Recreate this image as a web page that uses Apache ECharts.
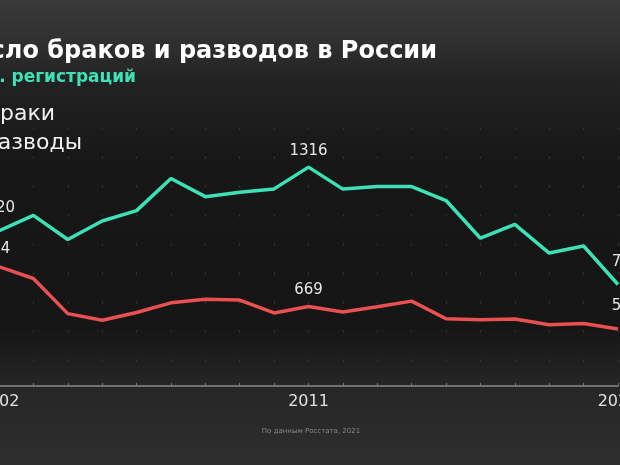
<!DOCTYPE html>
<html>
<head>
<meta charset="utf-8">
<script src="https://cdn.jsdelivr.net/npm/echarts@6/dist/echarts.min.js"></script>
<style>html,body{margin:0;padding:0;background:#1a1a1a}#c{width:620px;height:465px}</style>
</head>
<body>
<div id="c"></div>
<script>
const years = ['2002','2003','2004','2005','2006','2007','2008','2009','2010','2011','2012','2013','2014','2015','2016','2017','2018','2019','2020'];
const marriages = [1020, 1092, 980, 1066, 1114, 1263, 1179, 1199, 1215, 1316, 1214, 1226, 1226, 1161, 986, 1050, 917, 950, 771];
const divorces = [854, 799, 636, 605, 641, 686, 703, 699, 639, 669, 644, 668, 694, 612, 608, 611, 584, 590, 565];
const labelled = [0, 9, 18];
const titleText = 'Число браков и разводов в России';
const subtitleText = 'тыс. регистраций';
const legendNames = ['Браки', 'Разводы'];
const sourceText = 'По данным Росстата, 2021';

const GREEN = '#3ee0b6';
const RED = '#e8514f';
const FONT = '"DejaVu Sans", "Noto Sans", sans-serif';

function withLabels(arr, dist) {
  return arr.map((v, i) => {
    const k = labelled.indexOf(i);
    if (k < 0) return v;
    return {
      value: v,
      label: {show: true, position: 'top', distance: dist[k]}
    };
  });
}

function shiftLabel(params) {
  if (params.dataIndex === 18) return {dx: 8, hideOverlap: false};
  if (params.dataIndex === 0) return {dx: -3, hideOverlap: false};
  return {hideOverlap: false};
}

const labelBase = {show: false, color: '#e6e6e6', fontSize: 15, fontFamily: FONT, formatter: '{c}'};

const chart = echarts.init(document.getElementById('c'), null, {renderer: 'canvas'});
chart.setOption({
  backgroundColor: {
    type: 'linear', x: 0, y: 0, x2: 0, y2: 1,
    colorStops: [
      {offset: 0, color: '#3a3a3a'},
      {offset: 0.08, color: '#313131'},
      {offset: 0.18, color: '#222222'},
      {offset: 0.35, color: '#171717'},
      {offset: 0.7, color: '#151515'},
      {offset: 0.83, color: '#262626'},
      {offset: 1, color: '#2e2e2e'}
    ]
  },
  animation: false,
  grid: {left: -1, right: 2, top: 127.5, bottom: 79, containLabel: false, outerBoundsMode: 'none'},
  xAxis: {
    type: 'category', data: years, boundaryGap: false,
    axisLine: {lineStyle: {color: '#8a8a8a', width: 1.5}},
    axisTick: {show: true, inside: true, length: 3, interval: 0, lineStyle: {color: '#777'}},
    axisLabel: {interval: 8, color: '#e0e0e0', fontSize: 16, fontFamily: FONT, margin: 8, hideOverlap: false},
    splitLine: {show: true, interval: 0, lineStyle: {color: '#3a3a3a', type: [2, 27], width: 1.2}}
  },
  yAxis: {type: 'value', min: 300, max: 1500, show: false, splitLine: {show: false}},
  graphic: [
    {type: 'text', x: 437, y: 52, style: {text: titleText, align: 'right', verticalAlign: 'middle', fill: '#ffffff', font: 'bold 24px ' + FONT}},
    {type: 'text', x: 136, y: 78, style: {text: subtitleText, align: 'right', verticalAlign: 'middle', fill: GREEN, font: 'bold 17px ' + FONT}},
    {type: 'text', x: 55, y: 114, style: {text: legendNames[0], align: 'right', verticalAlign: 'middle', fill: '#f0f0f0', font: '22px ' + FONT}},
    {type: 'text', x: 82, y: 143, style: {text: legendNames[1], align: 'right', verticalAlign: 'middle', fill: '#f0f0f0', font: '22px ' + FONT}},
    {type: 'text', x: 311, y: 431, style: {text: sourceText, align: 'center', verticalAlign: 'middle', fill: '#8a8a8a', font: '7px ' + FONT}}
  ],
  series: [
    {
      name: legendNames[0], type: 'line', data: withLabels(marriages, [14, 8, 14]),
      symbol: 'circle', symbolSize: 2, showSymbol: true, itemStyle: {color: 'rgba(0,0,0,0)'},
      lineStyle: {color: GREEN, width: 3.5}, label: labelBase, labelLayout: shiftLabel
    },
    {
      name: legendNames[1], type: 'line', data: withLabels(divorces, [9, 8, 14]),
      symbol: 'circle', symbolSize: 2, showSymbol: true, itemStyle: {color: 'rgba(0,0,0,0)'},
      lineStyle: {color: RED, width: 3.5}, label: labelBase, labelLayout: shiftLabel
    }
  ]
});
</script>
</body>
</html>
